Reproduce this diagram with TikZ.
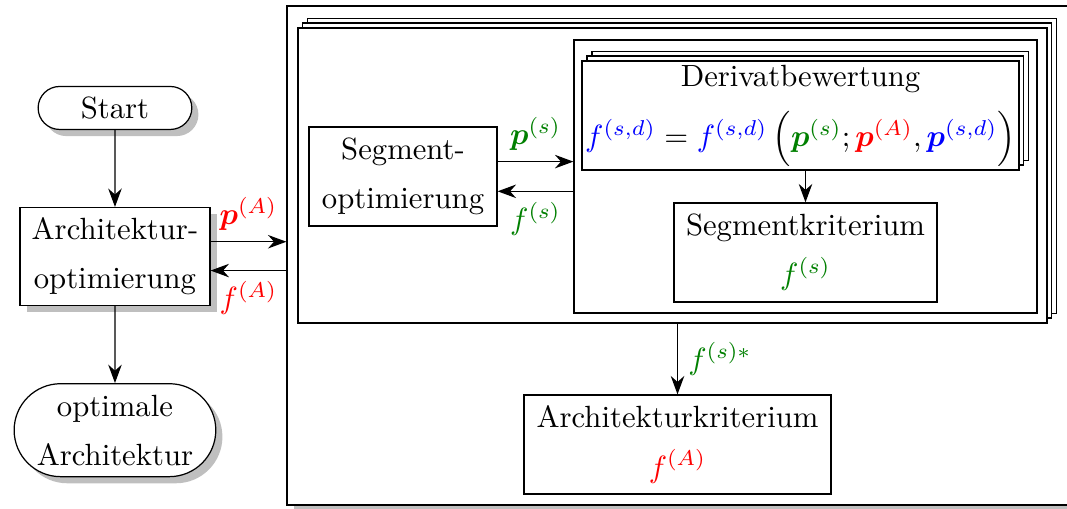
\documentclass[tikz,border=0pt]{standalone}
\usepackage{xcolor}
\usepackage{amsmath}
\usepackage{amssymb}
\usepackage{tikz}
\usetikzlibrary{arrows.meta,positioning,calc,shapes.misc,shadows}
\definecolor{archred}{HTML}{FF0000}
\definecolor{seggreen}{HTML}{008000}
\definecolor{derivblue}{HTML}{0000FF}

\begin{document}
\begin{tikzpicture}[
  proc/.style={draw, fill=white, align=center, inner sep=2pt},
  term/.style={proc, rounded rectangle},
  shadowed/.style={drop shadow},
  stack/.style={proc,
    copy shadow={shadow xshift=3.2pt, shadow yshift=3.2pt, draw, fill=white},
    copy shadow={shadow xshift=1.6pt, shadow yshift=1.6pt, draw, fill=white}},
  arr/.style={-{Stealth[length=6pt, width=4.4pt]}},
]
  \useasboundingbox (0,0) rectangle (12.213,-5.815);

  % left column
  \node[term, shadowed, minimum width=1.9cm, minimum height=0.492cm] (start) at (1.316,-1.236) {Start};
  \node[proc, shadowed, minimum width=2.175cm, minimum height=1.122cm, below=0.88cm of start] (archopt) {Architektur-\\[4pt]optimierung};
  \node[term, shadowed, minimum width=2.449cm, minimum height=1.064cm, below=0.88cm of archopt] (optarch) {optimale\\[4pt]Architektur};

  % segment level
  \node[proc, shadowed, minimum width=8.985cm, minimum height=5.712cm] (outer) at (7.778,-2.924) {};
  \node[stack, minimum width=8.573cm, minimum height=3.377cm] (segstack) at (7.697,-2.009) {};
  \node[proc, minimum width=5.3cm, minimum height=3.125cm] (inner) at (9.22,-2.02) {};
  \node[stack, inner sep=1pt, minimum width=4.933cm, minimum height=1.248cm] (deriv) at (9.163,-1.322)
    {Derivatbewertung\\[5pt]
     $\textcolor{derivblue}{f^{(s,d)}} = \textcolor{derivblue}{f^{(s,d)}}\,\Bigl(\textcolor{seggreen}{\boldsymbol{p}^{(s)}};\textcolor{archred}{\boldsymbol{p}^{(A)}},\textcolor{derivblue}{\boldsymbol{p}^{(s,d)}}\Bigr)$};
  \node[proc, minimum width=3.01cm, minimum height=1.133cm] (segkrit) at (9.22,-2.89) {Segmentkriterium\\[4pt]$\textcolor{seggreen}{f^{(s)}}$};
  \node[proc, minimum width=2.152cm, minimum height=1.133cm] (segopt) at (4.613,-2.02) {Segment-\\[4pt]optimierung};
  \node[proc, minimum width=3.514cm, minimum height=1.133cm] (archkrit) at (7.755,-5.088) {Architekturkriterium\\[4pt]$\textcolor{archred}{f^{(A)}}$};

  % connectors
  \draw[arr] (start) -- (archopt);
  \draw[arr] (archopt) -- (optarch);
  \draw[arr] ([yshift=0.17cm]archopt.east) -- ([yshift=0.17cm]archopt.east -| outer.west)
    node[midway, above, text=archred] {$\boldsymbol{p}^{(A)}$};
  \draw[arr] ([yshift=-0.16cm]archopt.east -| outer.west) -- ([yshift=-0.16cm]archopt.east)
    node[midway, below, text=archred] {$f^{(A)}$};
  \draw[arr] ([yshift=0.17cm]segopt.east) -- ([yshift=0.17cm]segopt.east -| inner.west)
    node[midway, above, text=seggreen] {$\boldsymbol{p}^{(s)}$};
  \draw[arr] ([yshift=-0.17cm]segopt.east -| inner.west) -- ([yshift=-0.17cm]segopt.east)
    node[midway, below, text=seggreen] {$f^{(s)}$};
  \draw[arr] (deriv.south -| segkrit.north) -- (segkrit.north);
  \draw[arr] (segstack.south -| archkrit.north) -- (archkrit.north)
    node[midway, right, text=seggreen] {$f^{(s)*}$};
\end{tikzpicture}
\end{document}
